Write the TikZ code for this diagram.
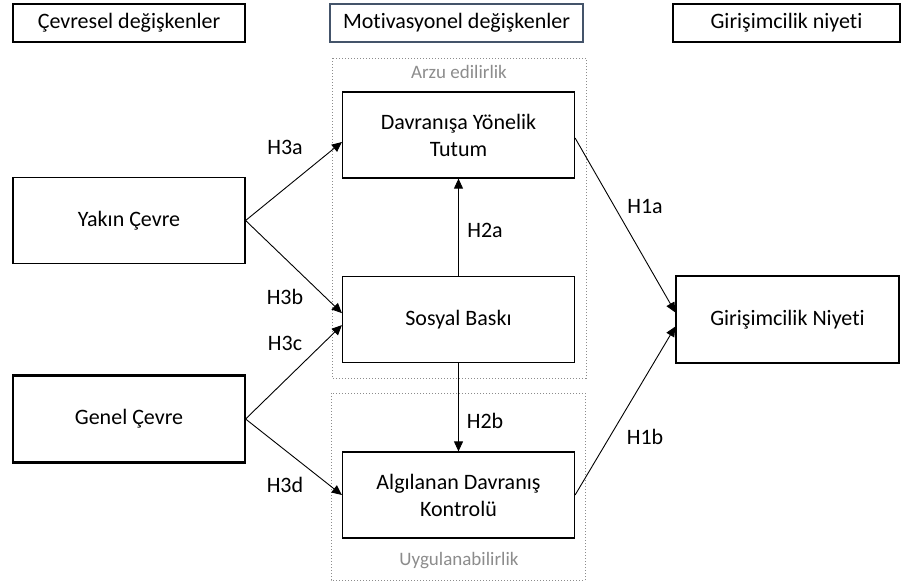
\documentclass[tikz,border=0pt]{standalone}
\usepackage{fontspec}
\setmainfont{Carlito}[Ligatures=NoCommon]
\usetikzlibrary{arrows.meta}
\definecolor{baslik}{RGB}{68,84,106}
\colorlet{soluk}{black!45}
\tikzset{kutu/.style={draw,line width=0.6pt,minimum width=116pt,minimum height=43pt,align=center,inner sep=2pt,font=\fontsize{11}{13.5}\selectfont},
  ust/.style={draw,line width=0.6pt,minimum height=19pt,inner sep=2pt,font=\fontsize{11}{13.5}\selectfont},
  etiket/.style={font=\fontsize{11}{13.5}\selectfont},
  okcizgi/.style={-{Triangle[length=5pt,width=4.5pt]},line width=0.45pt}}

\begin{document}
\begin{tikzpicture}[x=0.5pt,y=-0.5pt]%
\useasboundingbox (0,0) rectangle (901,585);%%
%%BASLIKLAR
\node[ust,minimum width=116pt] (cevresel) at (129,23) {Çevresel değişkenler}; %%
\node[ust,minimum width=126.5pt,draw=baslik] (motivasyonel) at (456.5,23) {Motivasyonel değişkenler}; %%
\node[ust,minimum width=113.5pt] (niyetbaslik) at (786.5,23) {Girişimcilik niyeti}; %%
%%GRUPLAR
\draw[densely dotted,soluk,line width=0.5pt] (332,58) rectangle (586,378);%%
\draw[densely dotted,soluk,line width=0.5pt] (331,393) rectangle (585,580);%%
\node[font=\fontsize{9.5}{11}\selectfont,text=soluk] (arzu) at (459,72) {Arzu edilirlik}; %%
\node[font=\fontsize{9.5}{11}\selectfont,text=soluk] (uygulama) at (459,561) {Uygulanabilirlik}; %%
%%DEGISKENLER
\node[kutu] (yakin) at (129,220.5) {Yakın Çevre}; %%
\node[kutu] (genel) at (129,419) {Genel Çevre}; %%
\draw[line width=1.7pt] (genel.north west) -- (genel.north east);%%
\draw[line width=1.7pt] (genel.south west) -- (genel.south east);%%
\node[kutu] (tutum) at (458.5,135) {Davranışa Yönelik\\Tutum}; %%
\node[kutu] (baski) at (458.5,319.5) {Sosyal Baskı}; %%
\node[kutu] (kontrol) at (458.5,495) {Algılanan Davranış\\Kontrolü}; %%
\node[kutu,minimum width=111.5pt,minimum height=43.5pt] (niyet) at (787.5,319.5) {Girişimcilik Niyeti}; %%
%%OKLAR
\draw[okcizgi] (yakin.east) -- ([yshift=-3.5pt]tutum.west);%%
\draw[okcizgi] (yakin.east) -- ([yshift=3.2pt]baski.west);%%
\draw[okcizgi] (genel.east) -- ([yshift=-2.8pt]baski.west);%%
\draw[okcizgi] (genel.east) -- (kontrol.west);%%
\draw[okcizgi] (baski.north) -- (tutum.south);%%
\draw[okcizgi] (baski.south) -- (kontrol.north);%%
\draw[okcizgi] ([yshift=-1.5pt]tutum.east) -- ([yshift=3.5pt]niyet.west);%%
\draw[okcizgi] (kontrol.east) -- ([yshift=-3.5pt]niyet.west);%%
%%HIPOTEZLER
\node[etiket] (h3a) at (285,147) {H3a}; %%
\node[etiket] (h3b) at (285,297) {H3b}; %%
\node[etiket] (h3c) at (285,343) {H3c}; %%
\node[etiket] (h3d) at (285,485) {H3d}; %%
\node[etiket] (h2a) at (485,230) {H2a}; %%
\node[etiket] (h2b) at (485,421) {H2b}; %%
\node[etiket] (h1a) at (645,206) {H1a}; %%
\node[etiket] (h1b) at (645,437) {H1b}; %%
\end{tikzpicture}
\end{document}
